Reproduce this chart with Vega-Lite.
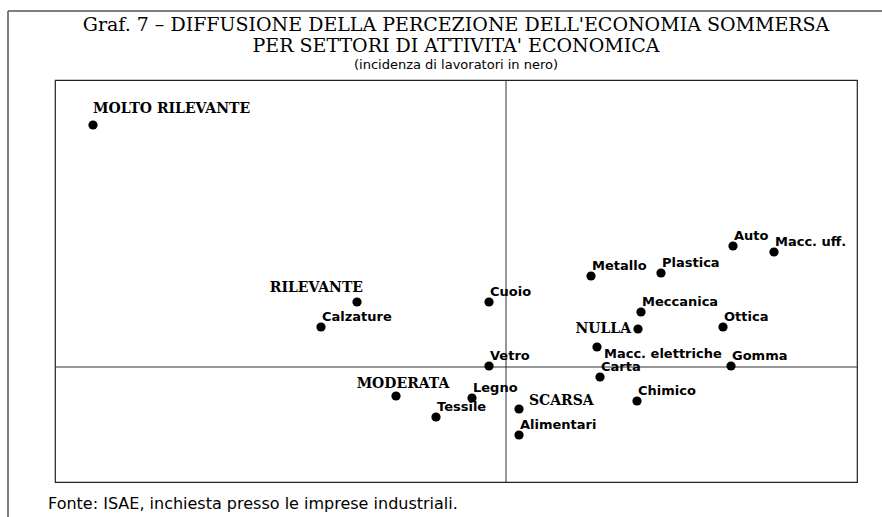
{
  "$schema": "https://vega.github.io/schema/vega-lite/v6.json",
  "width": 802,
  "height": 402,
  "autosize": {"type": "none"},
  "padding": {"left": 55, "top": 80, "right": 25, "bottom": 35},
  "background": "white",
  "config": {"view": {"stroke": "#222", "strokeWidth": 1.2}},
  "title": {
    "text": ["Graf. 7 – DIFFUSIONE DELLA PERCEZIONE DELL'ECONOMIA SOMMERSA", "PER SETTORI DI ATTIVITA' ECONOMICA"],
    "subtitle": "(incidenza di lavoratori in nero)",
    "frame": "group",
    "anchor": "middle",
    "font": "DejaVu Serif",
    "fontSize": 19,
    "fontWeight": "normal",
    "lineHeight": 21,
    "color": "black",
    "subtitleFont": "DejaVu Sans",
    "subtitleFontSize": 13,
    "subtitleColor": "black",
    "subtitlePadding": 3,
    "offset": -62
  },
  "data": {
    "values": [
      {"nome": "MOLTO RILEVANTE", "tipo": "classe", "x": -41.3, "y": 24.2},
      {"nome": "RILEVANTE", "tipo": "classe", "x": -14.9, "y": 6.5},
      {"nome": "NULLA", "tipo": "classe", "x": 13.2, "y": 3.8},
      {"nome": "MODERATA", "tipo": "classe", "x": -11.0, "y": -2.9},
      {"nome": "SCARSA", "tipo": "classe", "x": 1.3, "y": -4.2},
      {"nome": "Calzature", "tipo": "settore", "x": -18.5, "y": 4.0},
      {"nome": "Cuoio", "tipo": "settore", "x": -1.7, "y": 6.5},
      {"nome": "Vetro", "tipo": "settore", "x": -1.7, "y": 0.1},
      {"nome": "Metallo", "tipo": "settore", "x": 8.5, "y": 9.1},
      {"nome": "Plastica", "tipo": "settore", "x": 15.5, "y": 9.4},
      {"nome": "Auto", "tipo": "settore", "x": 22.7, "y": 12.1},
      {"nome": "Macc. uff.", "tipo": "settore", "x": 26.8, "y": 11.5},
      {"nome": "Meccanica", "tipo": "settore", "x": 13.5, "y": 5.5},
      {"nome": "Ottica", "tipo": "settore", "x": 21.7, "y": 4.0},
      {"nome": "Macc. elettriche", "tipo": "settore", "x": 9.1, "y": 2.0},
      {"nome": "Gomma", "tipo": "settore", "x": 22.5, "y": 0.1},
      {"nome": "Carta", "tipo": "settore", "x": 9.4, "y": -1.0},
      {"nome": "Chimico", "tipo": "settore", "x": 13.1, "y": -3.4},
      {"nome": "Legno", "tipo": "settore", "x": -3.4, "y": -3.1},
      {"nome": "Tessile", "tipo": "settore", "x": -7.0, "y": -5.0},
      {"nome": "Alimentari", "tipo": "settore", "x": 1.3, "y": -6.8}
    ]
  },
  "layer": [
    {
      "data": {"values": [{}]},
      "mark": {"type": "rule", "color": "#555", "strokeWidth": 1.5},
      "encoding": {
        "x": {"datum": -49.8, "axis": null},
        "x2": {"datum": 37.6},
        "y": {"datum": 35.6, "axis": null}
      }
    },
    {
      "data": {"values": [{}]},
      "mark": {"type": "rule", "color": "#555", "strokeWidth": 1.5},
      "encoding": {
        "x": {"datum": -49.8, "axis": null},
        "y": {"datum": 35.6, "axis": null},
        "y2": {"datum": -15.0}
      }
    },
    {
      "data": {"values": [{}]},
      "mark": {"type": "rule", "color": "#333", "strokeWidth": 1},
      "encoding": {"x": {"datum": 0, "axis": null}}
    },
    {
      "data": {"values": [{}]},
      "mark": {"type": "rule", "color": "#333", "strokeWidth": 1},
      "encoding": {"y": {"datum": 0, "axis": null}}
    },
    {
      "mark": {"type": "circle", "size": 85, "opacity": 1, "color": "black"},
      "encoding": {
        "x": {
          "field": "x", "type": "quantitative",
          "scale": {"domain": [-45.1, 35.1], "nice": false, "zero": false},
          "axis": null
        },
        "y": {
          "field": "y", "type": "quantitative",
          "scale": {"domain": [-11.5, 28.7], "nice": false, "zero": false},
          "axis": null
        }
      }
    },
    {
      "data": {"values": [{}]},
      "mark": {"type": "text", "align": "left", "baseline": "alphabetic", "font": "DejaVu Sans", "fontSize": 16, "color": "black"},
      "encoding": {
        "x": {"datum": -45.8, "axis": null},
        "y": {"datum": -14.2, "axis": null},
        "text": {"value": "Fonte: ISAE, inchiesta presso le imprese industriali."}
      }
    },
    {
      "transform": [{"filter": {"field": "nome", "oneOf": ["Calzature", "Cuoio", "Vetro", "Metallo", "Plastica", "Auto", "Macc. uff.", "Meccanica", "Ottica", "Gomma", "Carta", "Chimico", "Legno", "Tessile", "Alimentari"]}}],
      "mark": {"type": "text", "align": "left", "baseline": "alphabetic", "dx": 1, "dy": -6.5, "font": "DejaVu Sans", "fontSize": 13, "fontWeight": "bold", "color": "black"},
      "encoding": {
        "x": {"field": "x", "type": "quantitative", "axis": null},
        "y": {"field": "y", "type": "quantitative", "axis": null},
        "text": {"field": "nome"}
      }
    },
    {
      "transform": [{"filter": {"field": "nome", "equal": "Macc. elettriche"}}],
      "mark": {"type": "text", "align": "left", "baseline": "alphabetic", "dx": 7, "dy": 11, "font": "DejaVu Sans", "fontSize": 13, "fontWeight": "bold", "color": "black"},
      "encoding": {
        "x": {"field": "x", "type": "quantitative", "axis": null},
        "y": {"field": "y", "type": "quantitative", "axis": null},
        "text": {"field": "nome"}
      }
    },
    {
      "transform": [{"filter": {"field": "nome", "equal": "MOLTO RILEVANTE"}}],
      "mark": {"type": "text", "align": "left", "baseline": "alphabetic", "dx": 0, "dy": -12, "font": "DejaVu Serif", "fontWeight": "bold", "fontSize": 14, "color": "black"},
      "encoding": {
        "x": {"field": "x", "type": "quantitative", "axis": null},
        "y": {"field": "y", "type": "quantitative", "axis": null},
        "text": {"field": "nome"}
      }
    },
    {
      "transform": [{"filter": {"field": "nome", "equal": "RILEVANTE"}}],
      "mark": {"type": "text", "align": "right", "baseline": "alphabetic", "dx": 6, "dy": -10, "font": "DejaVu Serif", "fontWeight": "bold", "fontSize": 14, "color": "black"},
      "encoding": {
        "x": {"field": "x", "type": "quantitative", "axis": null},
        "y": {"field": "y", "type": "quantitative", "axis": null},
        "text": {"field": "nome"}
      }
    },
    {
      "transform": [{"filter": {"field": "nome", "equal": "NULLA"}}],
      "mark": {"type": "text", "align": "right", "baseline": "alphabetic", "dx": -7, "dy": 4, "font": "DejaVu Serif", "fontWeight": "bold", "fontSize": 14, "color": "black"},
      "encoding": {
        "x": {"field": "x", "type": "quantitative", "axis": null},
        "y": {"field": "y", "type": "quantitative", "axis": null},
        "text": {"field": "nome"}
      }
    },
    {
      "transform": [{"filter": {"field": "nome", "equal": "MODERATA"}}],
      "mark": {"type": "text", "align": "center", "baseline": "alphabetic", "dx": 7, "dy": -8, "font": "DejaVu Serif", "fontWeight": "bold", "fontSize": 14, "color": "black"},
      "encoding": {
        "x": {"field": "x", "type": "quantitative", "axis": null},
        "y": {"field": "y", "type": "quantitative", "axis": null},
        "text": {"field": "nome"}
      }
    },
    {
      "transform": [{"filter": {"field": "nome", "equal": "SCARSA"}}],
      "mark": {"type": "text", "align": "left", "baseline": "alphabetic", "dx": 10, "dy": -4, "font": "DejaVu Serif", "fontWeight": "bold", "fontSize": 14, "color": "black"},
      "encoding": {
        "x": {"field": "x", "type": "quantitative", "axis": null},
        "y": {"field": "y", "type": "quantitative", "axis": null},
        "text": {"field": "nome"}
      }
    }
  ]
}
